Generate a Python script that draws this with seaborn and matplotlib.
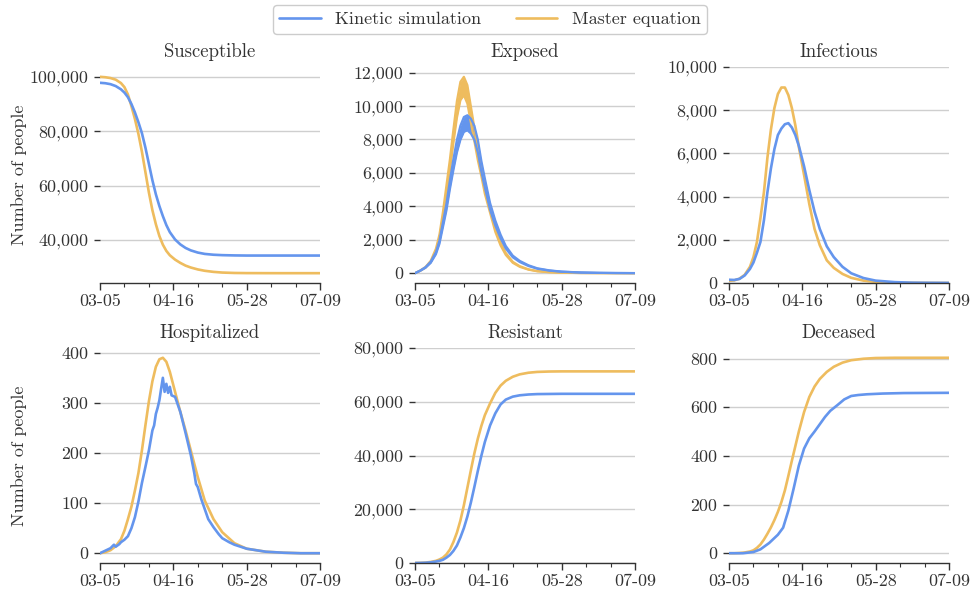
import matplotlib
matplotlib.use("Agg")
import matplotlib.pyplot as plt
from matplotlib.lines import Line2D
from matplotlib.ticker import FuncFormatter
import pandas as pd
import seaborn as sns

# ---------------------------------------------------------------------------
# Data: day offsets from 03-05 and compartment sizes for both models
# ---------------------------------------------------------------------------
days = [0, 3, 6, 9, 12, 14, 16, 18, 20, 22, 24, 26, 28, 30, 32, 34, 36, 38, 40,
        43, 46, 49, 52, 56, 60, 65, 70, 77, 84, 95, 105, 115, 126]

susceptible_me = [100000, 99850, 99550, 98950, 97700, 96200, 93500, 89200, 84500,
                  79000, 72500, 65000, 57500, 51000, 45800, 41500, 38300, 36000,
                  34400, 32800, 31600, 30600, 29900, 29200, 28700, 28300, 28050,
                  27900, 27850, 27830, 27820, 27820, 27820]
susceptible_ks = [97800, 97650, 97300, 96600, 95400, 94200, 92500, 90000, 86900,
                  83300, 79300, 74000, 68000, 62000, 56800, 52500, 48800, 45500,
                  42900, 40200, 38400, 37100, 36200, 35400, 34900, 34600, 34450,
                  34350, 34300, 34300, 34300, 34300, 34300]

# exposed counts oscillate quickly; kept as upper / lower envelopes
exposed_me_hi = [0, 160, 370, 740, 1470, 2310, 3670, 5250, 6820, 8600, 10300,
                 11450, 11750, 11250, 9980, 8700, 7450, 6400, 5250, 3990, 2730,
                 1840, 1210, 680, 420, 230, 125, 62, 31, 10, 5, 2, 0]
exposed_me_lo = [0, 140, 330, 660, 1330, 2090, 3330, 4750, 6180, 7800, 9300,
                 10350, 10650, 10150, 9020, 7900, 6750, 5800, 4750, 3610, 2470,
                 1660, 1090, 620, 380, 210, 115, 58, 29, 10, 5, 2, 0]
exposed_ks_hi = [0, 158, 357, 683, 1260, 1943, 3045, 4148, 5565, 6825, 7980,
                 8820, 9345, 9450, 9240, 8820, 7980, 6720, 5670, 4200, 3150,
                 2310, 1628, 1050, 735, 473, 294, 168, 95, 42, 21, 11, 5]
exposed_ks_lo = [0, 143, 323, 618, 1140, 1758, 2755, 3753, 5035, 6175, 7220,
                 7980, 8455, 8550, 8360, 7980, 7220, 6080, 5130, 3800, 2850,
                 2090, 1473, 950, 665, 428, 266, 152, 86, 38, 19, 10, 5]

infectious_me = [100, 120, 200, 380, 750, 1200, 1900, 3000, 4200, 5800, 7100,
                 8100, 8750, 9050, 9050, 8700, 8100, 7300, 6300, 5000, 3650,
                 2500, 1750, 1050, 700, 420, 240, 110, 50, 20, 10, 5, 2]
infectious_ks = [150, 140, 190, 350, 650, 950, 1400, 1900, 2900, 4200, 5300,
                 6200, 6850, 7150, 7350, 7400, 7200, 6850, 6350, 5400, 4300,
                 3300, 2500, 1700, 1200, 750, 450, 230, 110, 40, 15, 8, 4]

hospitalized_me = [0, 2, 6, 14, 28, 45, 68, 93, 125, 160, 205, 255, 303, 343,
                   372, 387, 390, 382, 362, 322, 282, 245, 205, 152, 105, 68,
                   42, 20, 9, 3, 1, 0, 0]
hosp_ks_days = [0, 3, 6, 8, 9, 11, 12, 14, 16, 18, 20, 22, 24, 26, 28, 30, 31,
                32, 33, 34, 35, 36, 37, 38, 39, 40, 41, 43, 46, 49, 52, 54, 55,
                56, 58, 60, 62, 65, 68, 70, 74, 77, 84, 95, 105, 115, 126]
hospitalized_ks = [0, 5, 10, 17, 13, 18, 22, 27, 34, 50, 72, 103, 140, 172, 205,
                   245, 255, 278, 290, 305, 328, 350, 322, 338, 320, 332, 315,
                   312, 282, 240, 196, 160, 138, 132, 108, 88, 68, 52, 38, 30,
                   22, 17, 9, 3, 1, 0, 0]

resistant_me = [0, 50, 150, 400, 800, 1300, 2000, 3200, 5000, 7800, 11300, 15800,
                21500, 28000, 34500, 40800, 46300, 51000, 55000, 59400, 63300,
                66000, 67800, 69300, 70200, 70800, 71100, 71250, 71300, 71300,
                71300, 71300, 71300]
resistant_ks = [0, 30, 100, 250, 550, 800, 1200, 2000, 3000, 4500, 6500, 9500,
                13000, 17300, 22500, 28300, 34300, 39900, 45000, 51200, 55700,
                59000, 60800, 61900, 62400, 62700, 62850, 62900, 62950, 62950,
                62950, 62950, 62950]

deceased_me = [0, 0, 1, 3, 7, 12, 22, 36, 56, 80, 106, 136, 170, 210, 258, 318,
               380, 440, 500, 580, 642, 685, 716, 745, 766, 783, 793, 799, 802,
               803, 803, 803, 803]
dec_ks_days = [0, 8, 14, 18, 23, 28, 31, 34, 37, 40, 43, 46, 49, 52, 55, 58, 62,
               66, 70, 74, 79, 88, 100, 126]
deceased_ks = [0, 0, 5, 16, 42, 76, 105, 175, 265, 360, 430, 472, 500, 530, 560,
               585, 608, 632, 646, 650, 653, 656, 658, 659]

date_ticks = [0, 42, 84, 126]
date_labels = ["03-05", "04-16", "05-28", "07-09"]
minor_ticks = [14, 28, 56, 70, 98, 112]

KS, ME = "Kinetic simulation", "Master equation"
BLUE, ORANGE = "#6495ED", "#EEBC5E"
palette = {KS: BLUE, ME: ORANGE}
INK = "#333333"

# ---------------------------------------------------------------------------
# Styling
# ---------------------------------------------------------------------------
sns.set_theme(style="ticks")
plt.rcParams.update({
    "font.family": "serif",
    "font.serif": ["cmr10"],
    "mathtext.fontset": "cm",
    "axes.unicode_minus": False,
    "axes.formatter.use_mathtext": True,
    "font.size": 13,
    "xtick.labelsize": 12.9,
    "ytick.labelsize": 12.9,
    "text.color": INK,
    "axes.labelcolor": INK,
    "xtick.color": INK,
    "ytick.color": INK,
    "axes.edgecolor": INK,
})

fig = plt.figure(figsize=(9.72, 5.98), dpi=100)
W, H = 972, 598
col_left = [100, 415, 729]
col_width = 220
row_top = [67, 348]
row_bottom = [283, 563]


def make_axes(r, c):
    left = col_left[c] / W
    bottom = 1 - row_bottom[r] / H
    height = (row_bottom[r] - row_top[r]) / H
    return fig.add_axes([left, bottom, col_width / W, height])


def long_frame(x_me, y_me, x_ks, y_ks):
    a = pd.DataFrame({"day": x_me, "count": y_me, "model": ME})
    b = pd.DataFrame({"day": x_ks, "count": y_ks, "model": KS})
    return pd.concat([a, b], ignore_index=True)


yfmt = FuncFormatter(lambda v, p: f"{v:,.0f}")


def style_axes(ax, title, ystep, ylim=None):
    ax.set_xlim(0, 126)
    if ylim is not None:
        ax.set_ylim(*ylim)
    lo, hi = ax.get_ylim()
    first = ystep * int(-(-lo // ystep))
    ticks = []
    t = first
    while t <= hi + 1e-9:
        ticks.append(t)
        t += ystep
    ax.set_yticks(ticks)
    ax.yaxis.set_major_formatter(yfmt)
    ax.set_xticks(date_ticks)
    ax.set_xticklabels(date_labels)
    ax.set_xticks(minor_ticks, minor=True)
    for side in ("left", "top", "right"):
        ax.spines[side].set_visible(False)
    ax.spines["bottom"].set_linewidth(1.0)
    ax.tick_params(axis="x", which="major", length=5, width=1, pad=3)
    ax.tick_params(axis="x", which="minor", length=3, width=0.8)
    ax.tick_params(axis="y", which="major", length=4.5, width=1, pad=4)
    ax.yaxis.grid(True, color="#cfcfcf", linewidth=1.0)
    ax.xaxis.grid(False)
    ax.set_axisbelow(True)
    ax.set_xlabel("")
    ax.set_ylabel("")
    ax.set_title(title, pad=7, fontsize=13.5)


LW = 1.9

panels = [
    ("Susceptible", 0, 0, days, susceptible_me, days, susceptible_ks, 20000, None),
    ("Infectious", 0, 2, days, infectious_me, days, infectious_ks, 2000, (0, 10000)),
    ("Hospitalized", 1, 0, days, hospitalized_me, hosp_ks_days, hospitalized_ks, 100, None),
    ("Resistant", 1, 1, days, resistant_me, days, resistant_ks, 20000, (0, 80000)),
    ("Deceased", 1, 2, days, deceased_me, dec_ks_days, deceased_ks, 200, None),
]

axes = {}
for title, r, c, xm, ym, xk, yk, step, ylim in panels:
    ax = make_axes(r, c)
    df = long_frame(xm, ym, xk, yk)
    sns.lineplot(data=df, x="day", y="count", hue="model", hue_order=[ME, KS],
                 palette=palette, estimator=None, legend=False, linewidth=LW,
                 ax=ax)
    style_axes(ax, title, step, ylim)
    axes[(r, c)] = ax

# Exposed: the fast oscillation is drawn as a filled envelope
ax = make_axes(0, 1)
for name, hi, lo in [(ME, exposed_me_hi, exposed_me_lo),
                     (KS, exposed_ks_hi, exposed_ks_lo)]:
    ax.fill_between(days, lo, hi, color=palette[name], linewidth=0)
    env = pd.concat([pd.DataFrame({"day": days, "count": hi, "edge": "hi"}),
                     pd.DataFrame({"day": days, "count": lo, "edge": "lo"})])
    sns.lineplot(data=env, x="day", y="count", units="edge", estimator=None,
                 color=palette[name], linewidth=1.6, legend=False, ax=ax)
style_axes(ax, "Exposed", 2000)
axes[(0, 1)] = ax

for r in (0, 1):
    a = axes[(r, 0)]
    a.set_ylabel("Number of people", fontsize=13)
    a.yaxis.set_label_coords((27 - col_left[0]) / col_width, 0.5)

handles = [Line2D([], [], color=BLUE, lw=LW), Line2D([], [], color=ORANGE, lw=LW)]
fig.legend(handles, [KS, ME], loc="upper center", bbox_to_anchor=(0.504, 1.006),
           ncol=2, frameon=True, fancybox=True, edgecolor="#cccccc",
           framealpha=1.0, columnspacing=1.9, handlelength=2.3,
           borderpad=0.35, fontsize=13)

fig.savefig("out.png", dpi=100)
